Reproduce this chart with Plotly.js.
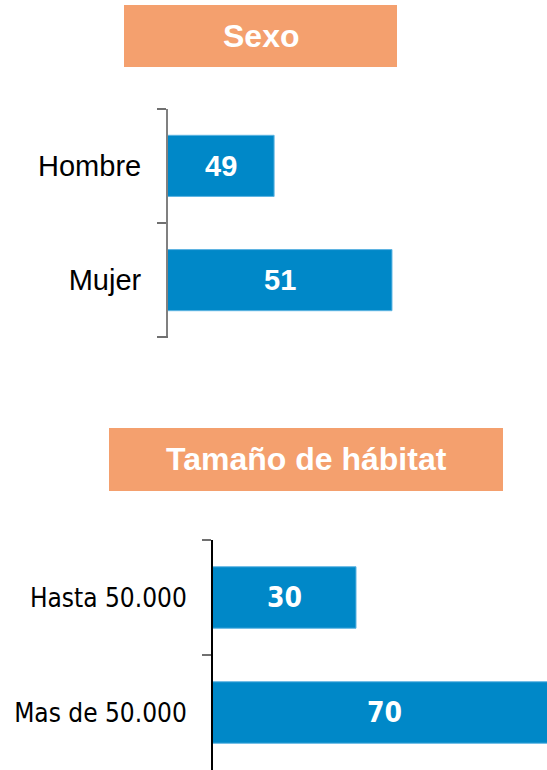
<!DOCTYPE html>
<html><head><meta charset="utf-8">
<script src="https://cdn.plot.ly/plotly-3.0.1.min.js"></script>
<style>html,body{margin:0;padding:0;background:#fff;}#chart{width:547px;height:770px;}</style>
</head><body><div id="chart"></div>
<script>
const sexoCategories = ['Hombre', 'Mujer'];
const sexoValues = [49, 51];
const habitatCategories = ['Hasta 50.000', 'Mas de 50.000'];
const habitatValues = [30, 70];
const panelTitles = ['Sexo', 'Tamaño de hábitat'];

const W = 547, H = 770;
const px = x => x / W, py = y => 1 - y / H;
const barColor = '#0088C8';
const headerColor = '#F4A06E';
const arial = 'Liberation Sans, Arial, sans-serif';
const tahoma = 'DejaVu Sans Condensed, DejaVu Sans, sans-serif';
const sexoRange = [47.2, 53.63];
const habitatRange = [1.4, 68.2];

const traces = [
  {type: 'bar', orientation: 'h', y: sexoCategories, x: sexoValues, xaxis: 'x', yaxis: 'y',
   marker: {color: barColor, line: {color: '#5DB4E2', width: 1}},
   textposition: 'none', hoverinfo: 'skip'},
  {type: 'bar', orientation: 'h', y: habitatCategories, x: habitatValues, xaxis: 'x2', yaxis: 'y2',
   marker: {color: barColor, line: {color: '#5DB4E2', width: 1}},
   textposition: 'none', hoverinfo: 'skip'}
];

const hiddenX = {showgrid: false, zeroline: false, showticklabels: false, showline: false, ticks: ''};

// value labels centred in the visible part of each bar
function valueLabels(cats, vals, range, xref, yref, font) {
  return cats.map((c, i) => ({
    xref: xref, yref: yref, x: (range[0] + vals[i]) / 2, y: c, text: String(vals[i]),
    showarrow: false, xanchor: 'center', yanchor: 'middle', font: font
  }));
}
const sexoLabels = valueLabels(sexoCategories, sexoValues, sexoRange, 'x', 'y',
  {family: arial, size: 29, color: '#ffffff', weight: 'bold'});
const habitatLabels = valueLabels(habitatCategories, habitatValues, habitatRange, 'x2', 'y2',
  {family: tahoma, size: 28, color: '#ffffff', weight: 'bold'});

const layout = {
  width: W, height: H,
  margin: {l: 0, r: 0, t: 0, b: 0},
  paper_bgcolor: '#ffffff', plot_bgcolor: 'rgba(0,0,0,0)',
  showlegend: false,
  bargap: 0.465,
  xaxis: Object.assign({domain: [px(168), 1], range: sexoRange, anchor: 'y'}, hiddenX),
  yaxis: {domain: [py(337.5), py(108.5)], type: 'category', range: [1.502, -0.502], anchor: 'x',
          tickson: 'boundaries', ticks: 'outside', ticklen: 9, tickwidth: 2, tickcolor: '#707070',
          showline: true, linecolor: '#808080', linewidth: 2, showgrid: false, zeroline: false,
          ticklabelstandoff: 19,
          tickfont: {family: arial, size: 29, color: '#000000'}},
  xaxis2: Object.assign({domain: [px(213), 1], range: habitatRange, anchor: 'y2'}, hiddenX),
  yaxis2: {domain: [0, py(540)], type: 'category', range: [1.5, -0.5], anchor: 'x2',
           tickson: 'boundaries', ticks: 'outside', ticklen: 9, tickwidth: 2, tickcolor: '#707070',
           showline: true, linecolor: '#000000', linewidth: 2, showgrid: false, zeroline: false,
           ticklabelstandoff: 19,
           tickfont: {family: tahoma, size: 26, color: '#000000'}},
  shapes: [
    {type: 'rect', xref: 'paper', yref: 'paper', x0: px(124), x1: px(397), y0: py(67), y1: py(5),
     fillcolor: headerColor, line: {width: 0}, layer: 'below'},
    {type: 'rect', xref: 'paper', yref: 'paper', x0: px(109), x1: px(503), y0: py(491), y1: py(428),
     fillcolor: headerColor, line: {width: 0}, layer: 'below'},
    // closing boundary tick at the bottom of the top panel's axis
    {type: 'line', xref: 'paper', yref: 'paper', x0: px(157), x1: px(168), y0: py(337), y1: py(337),
     line: {color: '#707070', width: 2}}
  ],
  annotations: [
    {xref: 'paper', yref: 'paper', x: px((124 + 397) / 2), y: py(36), text: panelTitles[0], showarrow: false,
     xanchor: 'center', yanchor: 'middle', font: {family: arial, size: 32, color: '#ffffff', weight: 'bold'}},
    {xref: 'paper', yref: 'paper', x: px((109 + 503) / 2), y: py(459.5), text: panelTitles[1], showarrow: false,
     xanchor: 'center', yanchor: 'middle', font: {family: arial, size: 32, color: '#ffffff', weight: 'bold'}}
  ].concat(sexoLabels, habitatLabels)
};

Plotly.newPlot('chart', traces, layout, {displayModeBar: false, staticPlot: true});
</script>
</body></html>
